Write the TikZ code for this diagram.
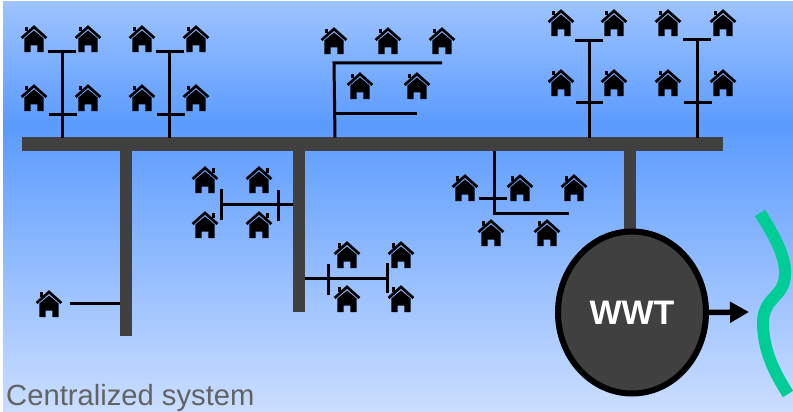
\documentclass[tikz,border=0pt]{standalone}
\usepackage{fontspec}
\setmainfont{Liberation Sans}
\usetikzlibrary{shapes.geometric,arrows.meta}
\definecolor{bgtop}{HTML}{9DC3FF}
\definecolor{bgmid}{HTML}{5B9BFF}
\definecolor{bgbot}{HTML}{CBDEFF}
\definecolor{pipe}{HTML}{404040}
\definecolor{river}{HTML}{00CC96}
\definecolor{caption}{HTML}{636363}
\tikzset{
  main/.style={draw=pipe,line width=14pt},
  branch/.style={draw=pipe,line width=12pt},
  lateral/.style={draw=black,line width=3pt},
  pics/house/.style={code={
    \fill[black] (0,-8.5) -- (-9.6,-0.5) -- (-9.6,13.2) -- (-3.4,13.2) -- (-3.4,6.5) -- (3.4,6.5) -- (3.4,13.2) -- (9.6,13.2) -- (9.6,-0.5) -- cycle;
    \draw[black,line width=2.7pt,miter limit=4] (-12.4,-1) -- (0,-12) -- (12.4,-1);
    \fill[black] (-9.5,-12) rectangle (-6.5,-7.5);
  }}
}
\begin{document}
\begin{tikzpicture}[x=1pt,y=-1pt]
\useasboundingbox (0,0) rectangle (793,412);
\fill[white] (0,0) rectangle (793,412);
\shade[top color=bgtop,bottom color=bgmid] (3,2) rectangle (793,125);
\shade[top color=bgmid,bottom color=bgbot] (3,125) rectangle (793,412);

% main pipes
\coordinate (trunkW) at (22,144);
\coordinate (trunkE) at (723,144);
\coordinate (b1top) at (126,144);
\coordinate (b1end) at (126,336);
\coordinate (b2top) at (299,144);
\coordinate (b2end) at (299,312);
\coordinate (b3top) at (630,144);
\draw[branch] (b1top) -- (b1end);
\draw[branch] (b2top) -- (b2end);
\draw[branch] (b3top) -- (630,240);
\draw[main] (trunkW) -- (trunkE);

% top clusters
\foreach \x/\l/\r/\lb/\rb/\ya/\yb in {62/48/76/49/77/52/114,169/156/184/157/185/52/114,589/575/603/576/603/41/103,697/683/711/684/712/40/103}{
  \draw[lateral] (\x,137.5) -- (\x,\ya);
  \draw[lateral] (\l,\ya) -- (\r,\ya);
  \draw[lateral] (\lb,\yb) -- (\rb,\yb);
}
\draw[lateral] (335,137.5) -- (334,63) -- (442,63);
\draw[lateral] (335,113) -- (417,113);

% clusters on branch 2
\draw[lateral] (293,204) -- (221,204);
\draw[lateral] (221,189) -- (221,220);
\draw[lateral] (278,190) -- (278,221);
\draw[lateral] (305,278) -- (387,278);
\draw[lateral] (328,264) -- (328,295);
\draw[lateral] (387,263) -- (387,293);

% cluster below trunk
\draw[lateral] (494,151) -- (494,213) -- (569,213);
\draw[lateral] (479,198) -- (507,198);

% single house
\draw[lateral] (70,303) -- (120,303);

% houses
\foreach \x/\y in {34/39,88/39,142/39,196/39,34/98,88/98,142/98,196/98,
  334/41,388/41,442/41,360/86,417/86,
  561/23,614/23,668/23,723/23,561/83,614/83,668/83,723/83,
  347/255,401/255,347/299,401/299,
  465/188,520/188,574/188,491/233,547/233,
  49/304}{
  \pic at (\x,\y) {house};
}
\foreach \x/\y in {205/180,259/180,205/225,259/225}{
  \pic[xscale=-1] at (\x,\y) {house};
}

% treatment plant
\node[ellipse,draw=black,fill=pipe,line width=6pt,minimum width=148pt,minimum height=162pt,inner sep=0pt,text=white,font=\bfseries\fontsize{34}{34}\selectfont] (wwt) at (632,312.5) {WWT};
\coordinate (outfall) at (749,312);
\draw[black,line width=5.5pt,-{Triangle[length=19pt,width=20pt]}] (wwt.east) -- (outfall);

% receiving water
\draw[river,line width=12pt] (760,213) .. controls (776,238) and (786,258) .. (785,275) .. controls (784,298) and (764,296) .. (763,322) .. controls (763,350) and (774,372) .. (788,394);

\node[anchor=base west,inner sep=0pt,text=caption,font=\fontsize{29.2}{30}\selectfont] (cap) at (6,405) {Centralized system};
\end{tikzpicture}
\end{document}
